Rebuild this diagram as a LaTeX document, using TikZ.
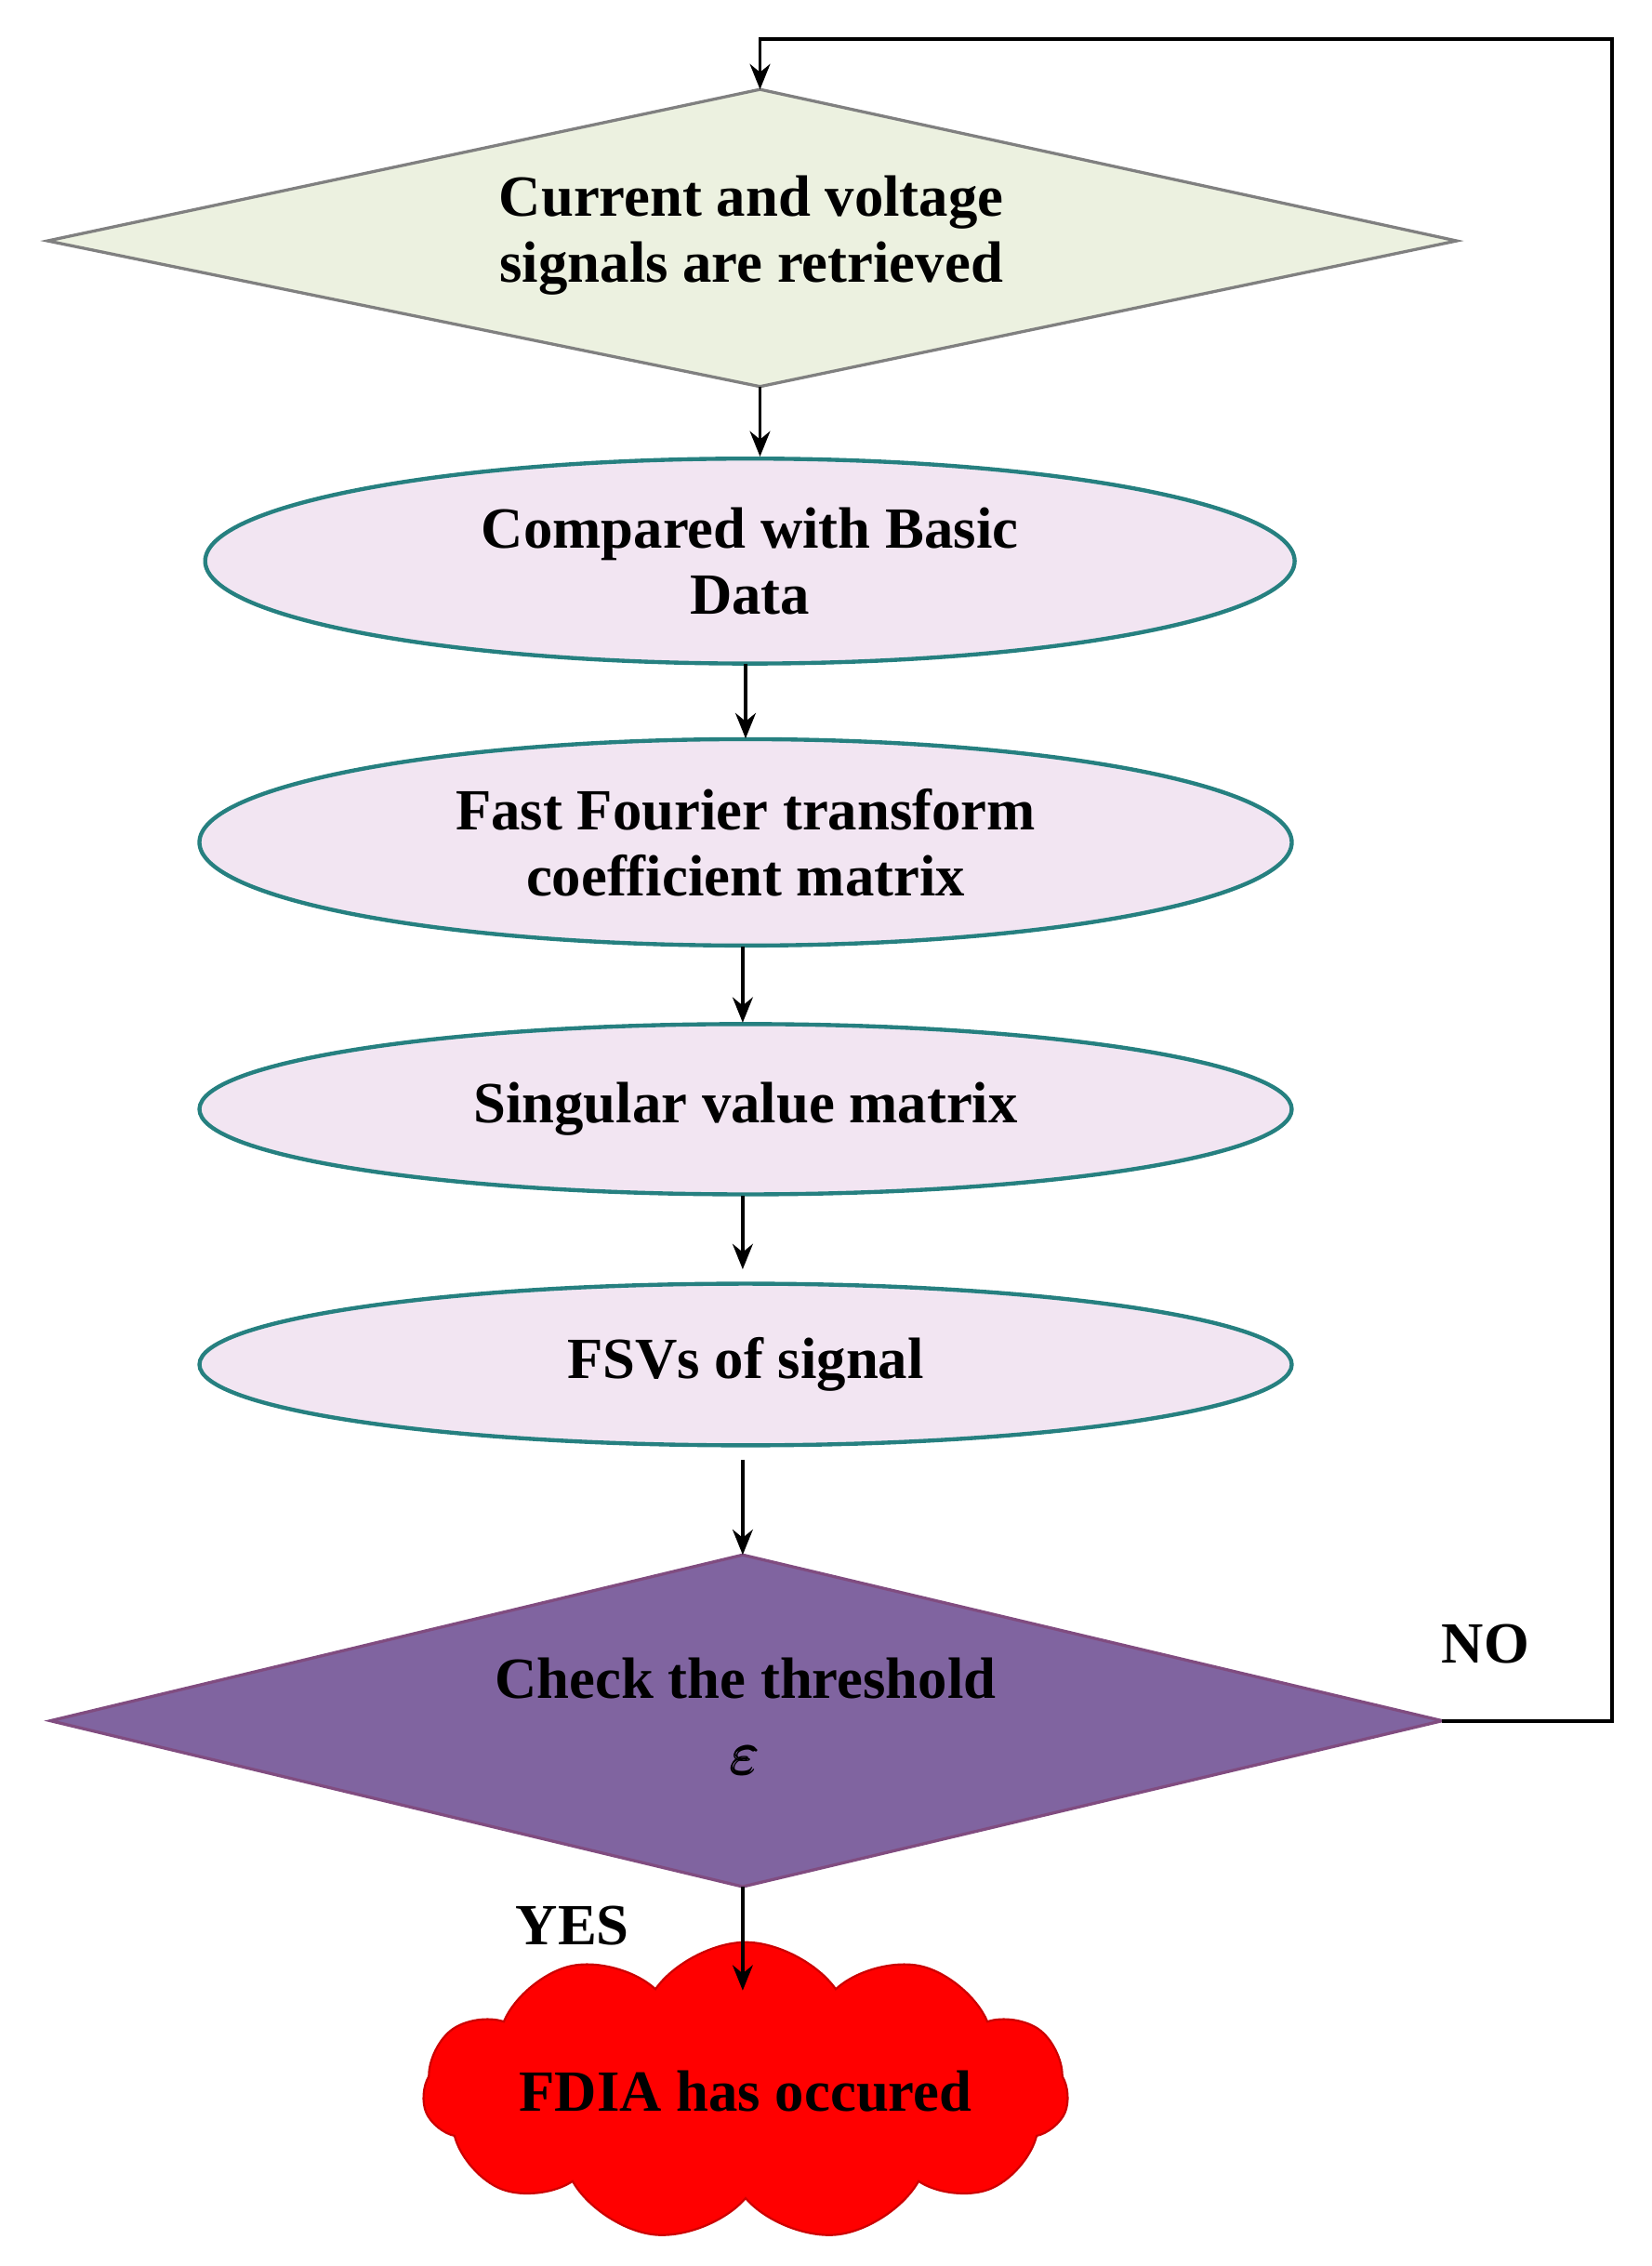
\documentclass[tikz,border=0pt]{standalone}
\usepackage{amsmath}
\usepackage{fontspec}
\setmainfont{Liberation Serif}
\usetikzlibrary{shapes.geometric,shapes.symbols,arrows.meta}
\begin{document}
\begin{tikzpicture}[x=0.01cm,y=-0.01cm,
  every node/.style={font=\fontsize{11.5}{13}\selectfont\bfseries, align=center},
  ell/.style={ellipse, draw=teal!70!gray, line width=0.8pt, fill=violet!10, inner sep=0pt},
  arr/.style={-{Stealth[length=5pt,width=4pt]}, line width=0.7pt}]
\useasboundingbox (0,0) rectangle (1145,1571);
% diamond 1
\coordinate (d1t) at (527,62); \coordinate (d1b) at (527,268);
\coordinate (d1l) at (33,167); \coordinate (d1r) at (1010,167);
\filldraw[draw=gray, line width=0.6pt, fill={rgb,255:red,236;green,241;blue,224}] (d1t) -- (d1r) -- (d1b) -- (d1l) -- cycle;
\node (d1) at (521,163) {Current and voltage\\signals are retrieved};
\node[ell, minimum width=7.55cm, minimum height=1.42cm] (e1) at (520,389) {Compared with Basic\\Data};
\node[ell, minimum width=7.57cm, minimum height=1.43cm] (e2) at (517,584) {Fast Fourier transform\\coefficient matrix};
\node[ell, minimum width=7.57cm, minimum height=1.18cm] (e3) at (517,769) {Singular value matrix};
\node[ell, minimum width=7.57cm, minimum height=1.12cm] (e4) at (517,946) {FSVs of signal};
% diamond 2
\coordinate (d2t) at (515,1078); \coordinate (d2b) at (515,1308);
\coordinate (d2l) at (35,1193); \coordinate (d2r) at (1000,1193);
\filldraw[draw=gray!60!violet, line width=0.6pt, fill={rgb,255:red,128;green,100;blue,160}] (d2t) -- (d2r) -- (d2b) -- (d2l) -- cycle;
\node (d2) at (517,1190) {Check the threshold\\[2pt]\pmb{$\varepsilon$}};
\node[cloud, cloud puffs=11, cloud puff arc=110, aspect=3, draw=red!80!black, fill=red, minimum width=4.3cm, minimum height=1.15cm, inner sep=0pt] (c) at (517,1450) {FDIA has occured};
\coordinate (n1) at (1118,1193);
\coordinate (n2) at (1118,27);
\coordinate (n3) at (527,27);
\draw[arr] (d1b) -- (e1.north -| d1b);
\draw[arr] (517,460) -- (517,512);
\draw[arr] (515,656) -- (515,709);
\draw[arr] (515,829) -- (515,880);
\draw[arr] (515,1012) -- (d2t);
\draw[arr] (d2b) -- (515,1380);
\draw[arr] (d2r) -- (n1) -- (n2) -- (n3) -- (d1t);
\node at (1030,1140) {NO};
\node at (397,1335) {YES};
\end{tikzpicture}
\end{document}
